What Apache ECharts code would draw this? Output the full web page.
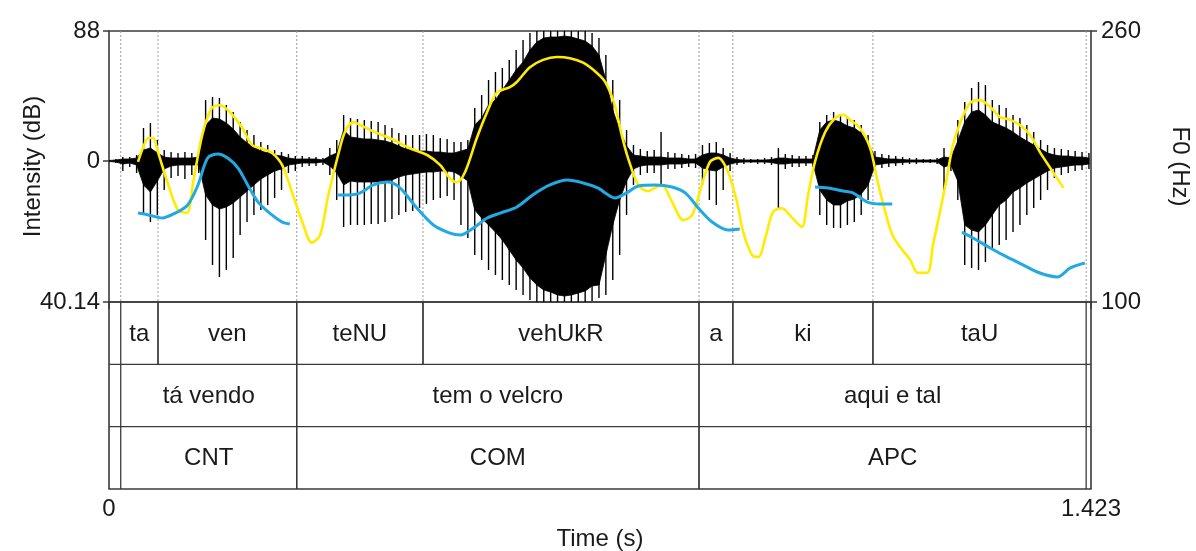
<!DOCTYPE html>
<html>
<head>
<meta charset="utf-8">
<script src="https://cdn.jsdelivr.net/npm/echarts@6/dist/echarts.min.js"></script>
<style>
  html, body { margin: 0; padding: 0; background: #fff; }
  #chart { width: 1196px; height: 551px; }
</style>
</head>
<body>
<div id="chart"></div>
<script>
// waveform envelope, 10 ms steps (amplitude in arbitrary units, 0 = baseline)
const waveT = [
  0.00, 0.01, 0.02, 0.03, 0.04, 0.05, 0.06, 0.07, 0.08, 0.09,
  0.10, 0.11, 0.12, 0.13, 0.14, 0.15, 0.16, 0.17, 0.18, 0.19,
  0.20, 0.21, 0.22, 0.23, 0.24, 0.25, 0.26, 0.27, 0.28, 0.29,
  0.30, 0.31, 0.32, 0.33, 0.34, 0.35, 0.36, 0.37, 0.38, 0.39,
  0.40, 0.41, 0.42, 0.43, 0.44, 0.45, 0.46, 0.47, 0.48, 0.49,
  0.50, 0.51, 0.52, 0.53, 0.54, 0.55, 0.56, 0.57, 0.58, 0.59,
  0.60, 0.61, 0.62, 0.63, 0.64, 0.65, 0.66, 0.67, 0.68, 0.69,
  0.70, 0.71, 0.72, 0.73, 0.74, 0.75, 0.76, 0.77, 0.78, 0.79,
  0.80, 0.81, 0.82, 0.83, 0.84, 0.85, 0.86, 0.87, 0.88, 0.89,
  0.90, 0.91, 0.92, 0.93, 0.94, 0.95, 0.96, 0.97, 0.98, 0.99,
  1.00, 1.01, 1.02, 1.03, 1.04, 1.05, 1.06, 1.07, 1.08, 1.09,
  1.10, 1.11, 1.12, 1.13, 1.14, 1.15, 1.16, 1.17, 1.18, 1.19,
  1.20, 1.21, 1.22, 1.23, 1.24, 1.25, 1.26, 1.27, 1.28, 1.29,
  1.30, 1.31, 1.32, 1.33, 1.34, 1.35, 1.36, 1.37, 1.38, 1.39,
  1.40, 1.41, 1.42
];
const waveMax = [
  1, 2, 4, 4, 6, 33, 38, 21, 11, 9,
  8, 9, 8, 10, 61, 64, 63, 56, 49, 39,
  31, 26, 19, 16, 11, 9, 7, 5, 5, 4,
  4, 3, 13, 21, 46, 43, 42, 41, 40, 39,
  36, 33, 28, 26, 26, 26, 27, 26, 23, 22,
  19, 19, 21, 53, 66, 81, 89, 93, 101, 111,
  121, 128, 130, 130, 130, 130, 130, 130, 130, 130,
  128, 123, 106, 81, 61, 31, 16, 12, 10, 11,
  29, 9, 8, 7, 6, 7, 16, 18, 19, 13,
  8, 4, 3, 2, 2, 3, 4, 13, 7, 6,
  5, 5, 6, 39, 46, 49, 46, 43, 41, 36,
  26, 10, 7, 6, 5, 4, 3, 3, 2, 2,
  3, 13, 8, 41, 59, 73, 79, 76, 61, 56,
  53, 46, 43, 36, 29, 21, 16, 13, 12, 11,
  10, 9, 8
];
const waveMin = [
  -1, -2, -10, -6, -12, -54, -61, -54, -29, -17,
  -15, -18, -14, -12, -79, -104, -116, -109, -97, -74,
  -61, -54, -49, -44, -37, -29, -12, -10, -6, -5,
  -5, -4, -14, -39, -66, -64, -64, -64, -63, -63,
  -61, -58, -54, -51, -50, -47, -43, -39, -37, -35,
  -39, -64, -77, -94, -99, -109, -114, -119, -124, -129,
  -134, -139, -141, -141, -141, -141, -141, -141, -141, -141,
  -140, -137, -134, -119, -94, -54, -24, -14, -12, -12,
  -24, -8, -8, -7, -6, -7, -24, -39, -44, -29,
  -10, -4, -3, -2, -3, -3, -4, -47, -8, -6,
  -6, -5, -6, -54, -64, -67, -67, -64, -61, -54,
  -39, -10, -7, -6, -5, -4, -3, -3, -2, -2,
  -3, -29, -10, -39, -104, -107, -109, -101, -89, -84,
  -79, -71, -64, -54, -47, -39, -29, -17, -14, -12,
  -10, -9, -8
];
const coreMax = [
  0.5, 1, 2, 2, 3, 11, 13, 8, 4, 3,
  3, 3, 3, 4, 36, 43, 42, 38, 32, 24,
  18, 14, 10, 8, 6, 5, 3, 2, 2, 2,
  2, 1, 5, 8, 31, 24, 23, 22, 22, 21,
  20, 18, 15, 12, 11, 10, 10, 9, 9, 8,
  8, 10, 12, 36, 43, 56, 61, 71, 81, 91,
  99, 111, 119, 123, 124, 124, 125, 124, 122, 120,
  115, 106, 81, 51, 31, 15, 6, 5, 4, 4,
  4, 3, 3, 3, 2, 2, 6, 8, 8, 6,
  3, 1.5, 1, 1, 1, 1, 1.5, 3, 3, 2,
  2, 2, 2, 31, 39, 41, 39, 35, 33, 28,
  18, 4, 3, 2, 2, 1.5, 1, 1, 1, 1,
  1, 4, 3, 20, 39, 49, 51, 46, 39, 36,
  33, 29, 24, 20, 16, 12, 8, 6, 5, 5,
  4, 4, 3
];
const coreMin = [
  -0.5, -1, -3, -2, -4, -24, -31, -20, -8, -5,
  -4, -4, -4, -4, -34, -44, -48, -46, -42, -36,
  -30, -24, -18, -14, -10, -8, -4, -3, -2, -2,
  -2, -1, -5, -12, -24, -20, -21, -21, -21, -21,
  -20, -19, -16, -14, -13, -12, -11, -11, -10, -10,
  -11, -15, -20, -49, -57, -64, -71, -79, -89, -99,
  -107, -117, -124, -129, -131, -134, -135, -134, -132, -130,
  -125, -124, -94, -64, -39, -20, -8, -5, -4, -4,
  -4, -3, -3, -3, -2, -2, -7, -9, -10, -6,
  -3, -1.5, -1, -1, -1, -1, -1.5, -3, -3, -2,
  -2, -2, -2, -29, -39, -44, -44, -40, -38, -33,
  -24, -4, -3, -2, -2, -1.5, -1, -1, -1, -1,
  -1, -6, -4, -20, -64, -69, -71, -64, -54, -44,
  -39, -31, -27, -22, -18, -14, -10, -7, -6, -5,
  -4, -4, -3
];

// intensity contour (dB)
const intensityT = [
  0.042, 0.049, 0.057, 0.064, 0.071, 0.086, 0.100, 0.113, 0.122, 0.135,
  0.149, 0.161, 0.175, 0.193, 0.207, 0.222, 0.236, 0.251, 0.265, 0.280,
  0.294, 0.306, 0.317, 0.332, 0.342, 0.354, 0.364, 0.388, 0.412, 0.436,
  0.461, 0.480, 0.494, 0.504, 0.516, 0.533, 0.548, 0.562, 0.581, 0.591,
  0.610, 0.629, 0.649, 0.668, 0.687, 0.707, 0.719, 0.733, 0.743, 0.752,
  0.767, 0.781, 0.791, 0.801, 0.816, 0.832, 0.845, 0.859, 0.871, 0.883,
  0.897, 0.910, 0.919, 0.932, 0.941, 0.951, 0.962, 0.975, 0.990, 1.004,
  1.013, 1.023, 1.038, 1.052, 1.064, 1.074, 1.088, 1.103, 1.114, 1.125,
  1.135, 1.146, 1.161, 1.172, 1.186, 1.194, 1.204, 1.214, 1.223, 1.236,
  1.248, 1.262, 1.277, 1.291, 1.306, 1.320, 1.335, 1.349, 1.364, 1.383
];
const intensityDb = [
  64.9, 67.3, 69.1, 69.1, 66.6, 60.8, 56.4, 55.9, 61.3, 69.6,
  74.4, 74.9, 73.7, 70.9, 67.9, 67.2, 66.5, 64.3, 59.6, 54.3,
  50.6, 52.0, 58.5, 66.1, 70.2, 71.9, 71.4, 70.0, 68.8, 67.3,
  66.1, 64.3, 62.0, 61.3, 63.1, 69.1, 73.7, 77.1, 78.1, 79.0,
  81.6, 82.9, 83.4, 83.2, 82.4, 80.6, 79.0, 74.9, 69.6, 65.6,
  60.8, 59.7, 60.3, 60.8, 57.8, 54.6, 55.5, 60.8, 64.9, 65.6,
  63.1, 57.8, 52.5, 48.4, 48.1, 51.4, 56.0, 56.7, 55.0, 53.4,
  59.0, 64.9, 70.2, 72.6, 73.2, 72.3, 70.9, 67.3, 61.3, 56.0,
  52.0, 49.9, 47.6, 45.3, 45.3, 50.2, 56.0, 62.0, 67.9, 72.6,
  75.3, 75.8, 74.6, 72.8, 72.3, 71.4, 69.6, 66.6, 63.8, 60.3
];

// pitch contour (Hz), null = unvoiced
const f0T = [
  0.042, 0.057, 0.077, 0.096, 0.114, 0.129, 0.143, 0.158, 0.172, 0.187,
  0.201, 0.216, 0.236, 0.251, 0.262, 0.300,
  0.332, 0.349, 0.364, 0.383, 0.403, 0.422, 0.446, 0.470, 0.494, 0.509,
  0.528, 0.548, 0.567, 0.591, 0.614, 0.639, 0.664, 0.687, 0.709, 0.719,
  0.733, 0.752, 0.767, 0.791, 0.816, 0.835, 0.854, 0.874, 0.897, 0.914,
  0.960,
  1.023, 1.042, 1.064, 1.078, 1.099, 1.117, 1.135, 1.180,
  1.236, 1.252, 1.277, 1.301, 1.325, 1.349, 1.374, 1.393, 1.414
];
const f0Hz = [
  152.5, 151.4, 149.6, 152.5, 157.3, 169.1, 185.0, 187.4, 185.0, 179.1,
  169.1, 159.0, 151.4, 147.2, 146.1, null,
  163.2, 163.2, 164.4, 169.1, 170.8, 167.3, 155.5, 145.5, 140.7, 139.6,
  143.7, 149.6, 152.5, 156.1, 163.2, 169.1, 172.0, 170.3, 167.3, 164.4,
  161.4, 164.9, 168.5, 169.1, 167.9, 164.4, 155.5, 147.2, 142.5, 143.1,
  null,
  167.9, 167.3, 165.5, 164.4, 159.0, 157.9, 157.9, null,
  141.3, 137.8, 131.9, 126.6, 121.8, 117.1, 114.8, 120.1, 123.0
];

// annotation tiers
const tier1Labels = ['ta', 'ven', 'teNU', 'vehUkR', 'a', 'ki', 'taU'];
const tier1Bounds = [0.017, 0.071, 0.272, 0.455, 0.855, 0.904, 1.107, 1.416];
const tier2Labels = ['tá vendo', 'tem o velcro', 'aqui e tal'];
const tier2Bounds = [0.017, 0.272, 0.855, 1.416];
const tier3Labels = ['CNT', 'COM', 'APC'];
const tier3Bounds = [0.017, 0.272, 0.855, 1.416];

const leftTicks = [40.14, 88];
const zeroTick = [0];
const rightTicks = [100, 260];
const timeTicks = [0, 1.423];

const chart = echarts.init(document.getElementById('chart'));
const font = '"Liberation Sans", Arial, sans-serif';
const lineCol = '#3a3a3a';
const textCol = '#1a1a1a';

const waveData = waveT.map((t, i) => [t, waveMax[i], waveMin[i]]);

function renderWave(params, api) {
  const i = params.dataIndex;
  const t = api.value(0);
  const top = api.coord([t, api.value(1)]);
  const bot = api.coord([t, api.value(2)]);
  const children = [{
    type: 'line',
    shape: { x1: top[0], y1: top[1], x2: bot[0], y2: bot[1] },
    style: { stroke: '#000', lineWidth: 1.4 }
  }];
  if (i < waveT.length - 1) {
    const n = waveT[i + 1];
    children.push({
      type: 'polygon',
      shape: {
        points: [
          api.coord([t, coreMax[i]]), api.coord([n, coreMax[i + 1]]),
          api.coord([n, coreMin[i + 1]]), api.coord([t, coreMin[i]])
        ]
      },
      style: { fill: '#000', stroke: '#000', lineWidth: 0.8 }
    });
  }
  return { type: 'group', children: children };
}

function renderGuide(params, api) {
  const cs = params.coordSys;
  const x = api.coord([api.value(0), 0])[0];
  return {
    type: 'line',
    shape: { x1: x, y1: cs.y, x2: x, y2: cs.y + cs.height },
    style: { stroke: '#9a9a9a', lineWidth: 1, lineDash: [2, 2] }
  };
}

const tierItems = [];
[[tier1Labels, tier1Bounds], [tier2Labels, tier2Bounds], [tier3Labels, tier3Bounds]]
  .forEach(([labels, bounds], row) => {
    labels.forEach((lab, j) => {
      tierItems.push({ value: [bounds[j], bounds[j + 1], row], label: lab });
    });
  });

function renderTier(params, api) {
  const s = api.value(0), e = api.value(1), r = api.value(2);
  const p0 = api.coord([s, r]);
  const p1 = api.coord([e, r + 1]);
  const st = { stroke: lineCol, lineWidth: 1.3 };
  return {
    type: 'group',
    children: [
      { type: 'line', shape: { x1: p0[0], y1: p0[1], x2: p0[0], y2: p1[1] }, style: st },
      { type: 'line', shape: { x1: p1[0], y1: p0[1], x2: p1[0], y2: p1[1] }, style: st },
      {
        type: 'text',
        x: (p0[0] + p1[0]) / 2,
        y: (p0[1] + p1[1]) / 2 + 1,
        style: {
          text: tierItems[params.dataIndex].label,
          fill: textCol,
          fontSize: 24,
          fontFamily: font,
          align: 'center',
          verticalAlign: 'middle'
        }
      }
    ]
  };
}

function renderRowLine(params, api) {
  const cs = params.coordSys;
  const y = api.coord([0, api.value(0)])[1];
  return {
    type: 'line',
    shape: { x1: cs.x, y1: y, x2: cs.x + cs.width, y2: y },
    style: { stroke: lineCol, lineWidth: 1.3 }
  };
}

const labelStyle = { fontSize: 24, fontFamily: font, color: textCol };
const tickStyle = { color: lineCol, width: 1.5 };

chart.setOption({
  animation: false,
  backgroundColor: '#fff',
  grid: [
    {
      left: 109, top: 31, width: 982, height: 271, outerBoundsMode: 'none',
      show: true, borderColor: lineCol, borderWidth: 1.6
    },
    {
      left: 109, top: 302, width: 982, height: 187, outerBoundsMode: 'none',
      show: true, borderColor: lineCol, borderWidth: 1.6
    }
  ],
  xAxis: [
    { gridIndex: 0, type: 'value', min: 0, max: 1.423, show: false },
    {
      gridIndex: 1, type: 'value', min: 0, max: 1.423,
      axisLine: { show: false },
      splitLine: { show: false },
      axisTick: { show: true, customValues: timeTicks, length: 7, lineStyle: tickStyle },
      axisLabel: Object.assign({ customValues: timeTicks, margin: 8 }, labelStyle),
      name: 'Time (s)', nameLocation: 'middle', nameGap: 38, nameMoveOverlap: false,
      nameTextStyle: labelStyle
    }
  ],
  yAxis: [
    {
      gridIndex: 0, type: 'value', min: 40.14, max: 88, position: 'left',
      axisLine: { show: false }, splitLine: { show: false },
      axisTick: { show: true, customValues: leftTicks, length: 6, lineStyle: tickStyle },
      axisLabel: Object.assign({ customValues: leftTicks, margin: 9 }, labelStyle),
      name: 'Intensity (dB)', nameLocation: 'middle', nameGap: 64, nameRotate: 90,
      nameMoveOverlap: false,
      nameTextStyle: labelStyle
    },
    {
      gridIndex: 0, type: 'value', min: -141, max: 130, position: 'left',
      axisLine: { show: false }, splitLine: { show: false },
      axisTick: { show: true, customValues: zeroTick, length: 6, lineStyle: tickStyle },
      axisLabel: Object.assign({ customValues: zeroTick, margin: 9 }, labelStyle)
    },
    {
      gridIndex: 0, type: 'value', min: 100, max: 260, position: 'right',
      axisLine: { show: false }, splitLine: { show: false },
      axisTick: { show: true, customValues: rightTicks, length: 6, lineStyle: tickStyle },
      axisLabel: Object.assign({ customValues: rightTicks, margin: 10 }, labelStyle),
      name: 'F0 (Hz)', nameLocation: 'middle', nameGap: 77, nameRotate: -90,
      nameMoveOverlap: false,
      nameTextStyle: labelStyle
    },
    { gridIndex: 1, type: 'value', min: 0, max: 3, inverse: true, show: false }
  ],
  series: [
    {
      type: 'custom', xAxisIndex: 0, yAxisIndex: 1, z: 1, silent: true,
      renderItem: renderGuide,
      data: tier1Bounds.map(t => [t])
    },
    {
      type: 'custom', xAxisIndex: 0, yAxisIndex: 1, z: 2, clip: true, silent: true,
      renderItem: renderWave,
      encode: { x: 0, y: 1 },
      data: waveData
    },
    {
      type: 'line', xAxisIndex: 0, yAxisIndex: 0, z: 5,
      data: intensityT.map((t, i) => [t, intensityDb[i]]),
      showSymbol: false, smooth: 0.3,
      lineStyle: { color: '#ffec00', width: 2.6 }
    },
    {
      type: 'line', xAxisIndex: 0, yAxisIndex: 2, z: 6,
      data: f0T.map((t, i) => [t, f0Hz[i]]),
      connectNulls: false, showSymbol: false, smooth: 0.3,
      lineStyle: { color: '#22a9e3', width: 3 }
    },
    {
      type: 'custom', xAxisIndex: 1, yAxisIndex: 3, silent: true,
      renderItem: renderRowLine,
      data: [[1], [2]]
    },
    {
      type: 'custom', xAxisIndex: 1, yAxisIndex: 3, silent: true,
      renderItem: renderTier,
      data: tierItems.map(d => d.value)
    }
  ]
});
</script>
</body>
</html>
